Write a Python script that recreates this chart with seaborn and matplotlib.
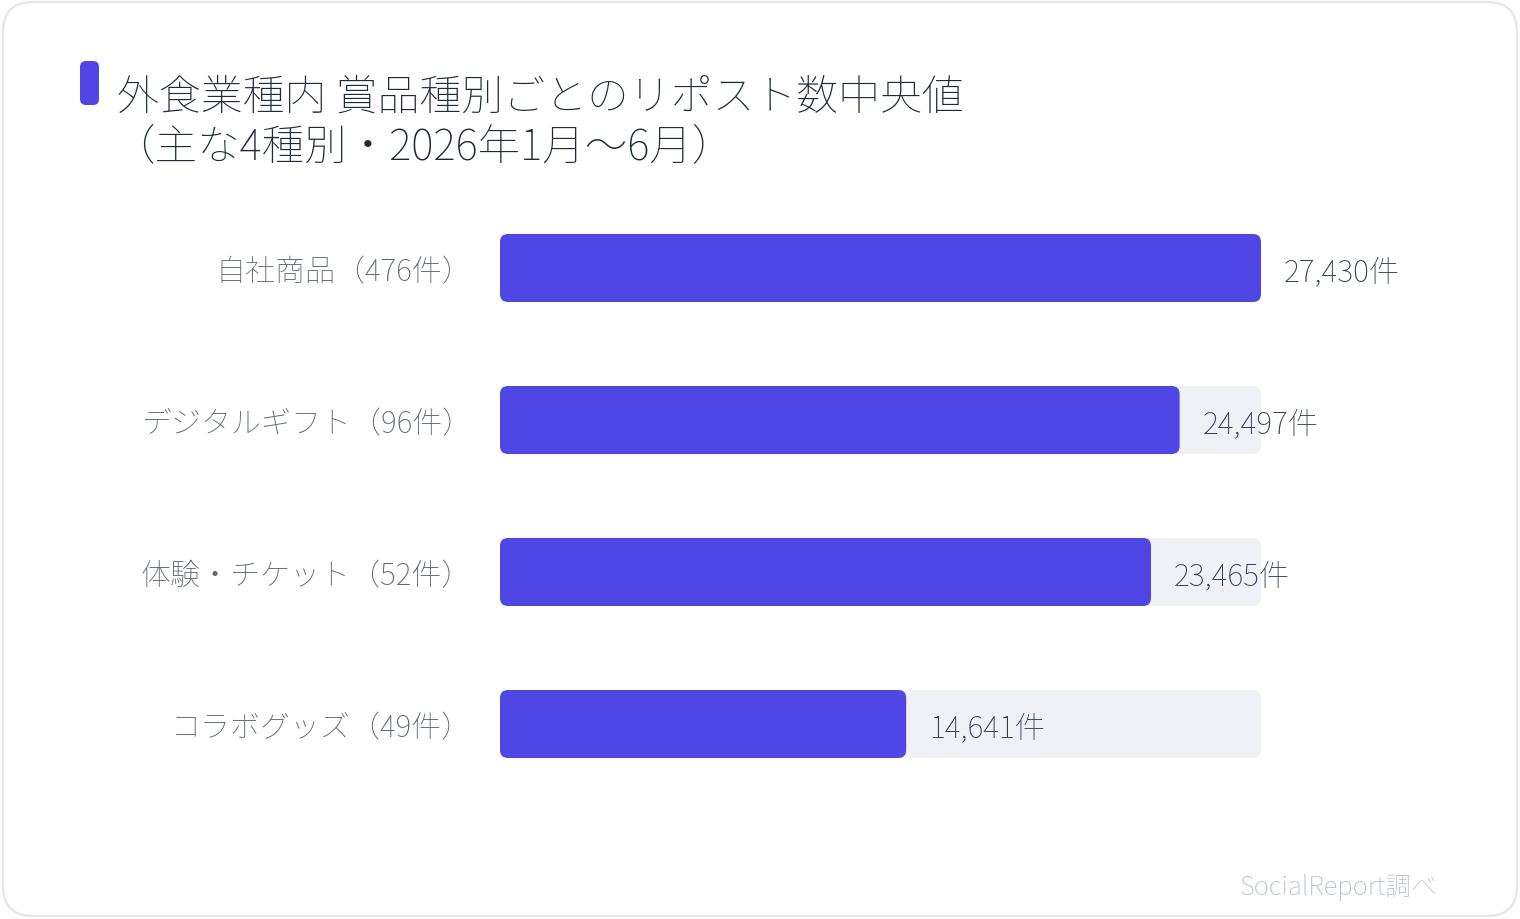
import matplotlib
matplotlib.use('Agg')
import matplotlib.pyplot as plt
import seaborn as sns
import pandas as pd
from matplotlib.patches import FancyBboxPatch

categories = ['自社商品（476件）', 'デジタルギフト（96件）', '体験・チケット（52件）', 'コラボグッズ（49件）']
values = [27430, 24497, 23465, 14641]
value_labels = ['27,430件', '24,497件', '23,465件', '14,641件']
title_line1 = '外食業種内 賞品種別ごとのリポスト数中央値'
title_line2 = '（主な4種別・2026年1月～6月）'
source = 'SocialReport調べ'

W, H = 1520, 920
BAR = '#4F46E5'
TRACK = '#F0F1F7'

sns.set_theme(style='white')
plt.rcParams['font.family'] = ['Noto Sans CJK JP', 'DejaVu Sans']
plt.rcParams['font.weight'] = 100

fig = plt.figure(figsize=(W / 100, H / 100), dpi=100)
fig.patch.set_facecolor('white')

# rounded border of the card
fig.patches.append(FancyBboxPatch((3, 3), W - 6, H - 6,
                                  boxstyle='round,pad=0,rounding_size=30',
                                  transform=None, facecolor='none',
                                  edgecolor='#E3E5EC', linewidth=1.5, zorder=0))

ax = fig.add_axes([500 / W, 1 - 801 / H, 761 / W, 608 / H])
ax.set_facecolor('none')

df = pd.DataFrame({'category': categories, 'value': values,
                   'track': [max(values)] * len(values)})
bw = 68 / 152
sns.barplot(data=df, y='category', x='track', color=TRACK, width=bw, ax=ax,
            saturation=1, orient='h')
sns.barplot(data=df, y='category', x='value', color=BAR, width=bw, ax=ax,
            saturation=1, orient='h')
xmax = max(values)
ax.set_xlim(0, xmax)
ax.set_ylim(3.5, -0.5)

# make bars rounded
xpp = xmax / 761.0
ypp = 1.0 / 152.0
r = 8 * xpp
asp = ypp / xpp
for p in list(ax.patches):
    x, y = p.get_x(), p.get_y()
    w, h = p.get_width(), p.get_height()
    fc = p.get_facecolor()
    p.remove()
    ax.add_patch(FancyBboxPatch((x, y), w, h,
                                boxstyle=f'round,pad=0,rounding_size={r}',
                                mutation_aspect=asp, facecolor=fc,
                                edgecolor='none', linewidth=0))

for i, (v, lab) in enumerate(zip(values, value_labels)):
    ax.annotate(lab, (v, i), xytext=(23, -12), textcoords='offset pixels',
                ha='left', va='baseline', fontsize=21.8, color='#374151')
for i, cat in enumerate(categories):
    ax.annotate(cat, (0, i), xytext=(-28, -12), textcoords='offset pixels',
                ha='right', va='baseline', fontsize=21.6, color='#5F6472')

ax.set_xticks([])
ax.set_yticks([])
ax.set_xlabel('')
ax.set_ylabel('')
for s in ax.spines.values():
    s.set_visible(False)

# title accent
fig.patches.append(FancyBboxPatch((80, H - 106), 19, 44,
                                  boxstyle='round,pad=0,rounding_size=6',
                                  transform=None, facecolor=BAR,
                                  edgecolor='none', zorder=2))
fig.text(117 / W, 1 - 110 / H, title_line1, ha='left', va='baseline',
         fontsize=30.2, color='#1F2937')
fig.text(112 / W, 1 - 160 / H, title_line2, ha='left', va='baseline',
         fontsize=30.6, color='#1F2937')
fig.text(1438 / W, 1 - 895 / H, source, ha='right', va='baseline',
         fontsize=18.6, color='#B8BCCB')

fig.savefig('out.png', dpi=100)
